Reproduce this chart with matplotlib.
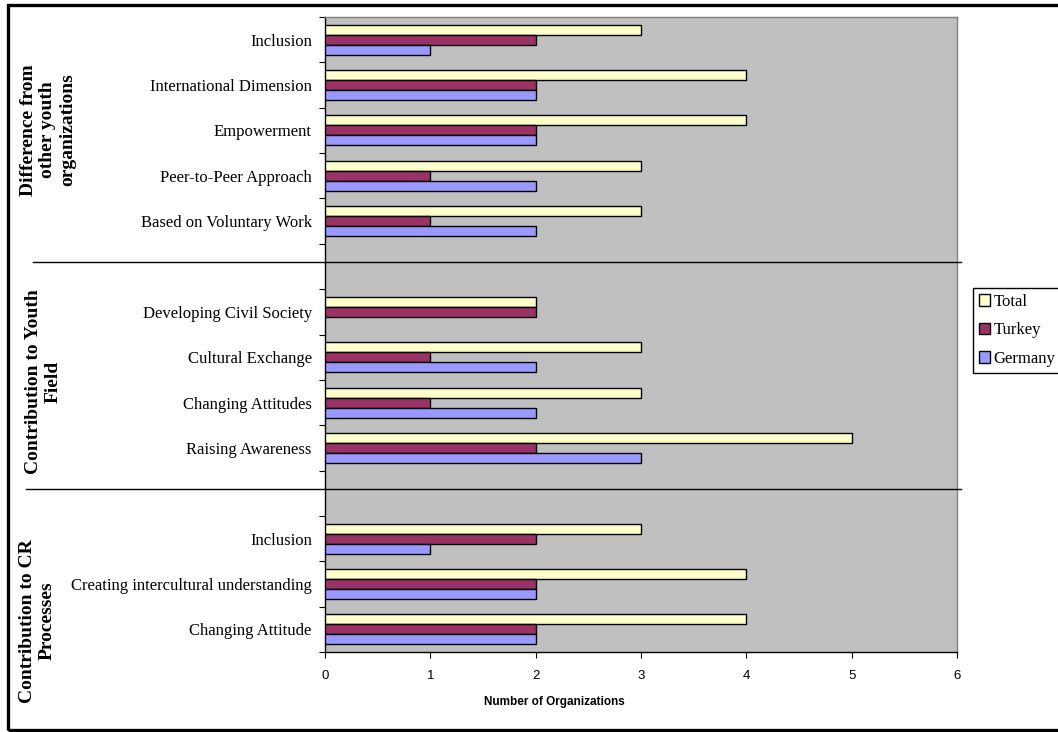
import matplotlib
matplotlib.use("Agg")
import matplotlib.pyplot as plt
from matplotlib.lines import Line2D
from matplotlib.patches import Rectangle
from matplotlib.transforms import blended_transform_factory
import numpy as np

# categories listed bottom to top; "" marks the empty slot between groups
categories = [
    "Changing Attitude",
    "Creating intercultural understanding",
    "Inclusion",
    "",
    "Raising Awareness",
    "Changing Attitudes",
    "Cultural Exchange",
    "Developing Civil Society",
    "",
    "Based on Voluntary Work",
    "Peer-to-Peer Approach",
    "Empowerment",
    "International Dimension",
    "Inclusion",
]
total = [4, 4, 3, 0, 5, 3, 3, 2, 0, 3, 3, 4, 4, 3]
turkey = [2, 2, 2, 0, 2, 1, 1, 2, 0, 1, 1, 2, 2, 2]
germany = [2, 2, 1, 0, 3, 2, 2, 0, 0, 2, 2, 2, 2, 1]

group_labels = [
    "Difference from\nother youth\norganizations",
    "Contribution to Youth\nField",
    "Contribution to CR\nProcesses",
]

series = [("Total", total, "#FFFFCC"),
          ("Turkey", turkey, "#993366"),
          ("Germany", germany, "#9999FF")]

W, H = 1058, 732
SERIF = "Liberation Serif"
SANS = "Liberation Sans"

fig = plt.figure(figsize=(W / 100, H / 100), dpi=100)
fig.patch.set_facecolor("white")
ax = fig.add_axes([325 / W, 1 - 652 / H, 632 / W, 635 / H])
ax.set_facecolor("#C0C0C0")

y = np.arange(len(categories))
bh = 0.22
for k, (name, vals, col) in enumerate(series):
    vals = np.array(vals, dtype=float)
    vals[vals == 0] = np.nan
    ax.barh(y + bh * (1 - k), vals, height=bh, color=col,
            edgecolor="black", linewidth=1.0, label=name, zorder=3)

ax.set_xlim(0, 6)
ax.set_ylim(-0.5, len(categories) - 0.5)
ax.set_xticks(range(7))
ax.set_xticklabels([str(i) for i in range(7)], fontfamily=SANS, fontsize=9.5)
ax.tick_params(axis="x", length=4, width=0.8, pad=9, color="black")

ax.set_yticks(y)
ax.set_yticklabels(categories, fontfamily=SERIF, fontsize=12)
ax.tick_params(axis="y", which="major", length=0, pad=9.5)
ax.set_yticks(np.arange(-0.5, len(categories)), minor=True)
ax.tick_params(axis="y", which="minor", length=4, width=0.8, color="black")

for side in ("top", "right"):
    ax.spines[side].set_color("#808080")
    ax.spines[side].set_linewidth(1.0)
for side in ("left", "bottom"):
    ax.spines[side].set_color("black")
    ax.spines[side].set_linewidth(1.0)

fig.text(554 / W, 1 - 702 / H, "Number of Organizations", fontfamily=SANS,
         fontweight="bold", fontsize=8.5, ha="center", va="center")

# group labels on the left, rotated
label_pos = [(48, 130), (43, 382), (37, 621)]
for txt, (px, py) in zip(group_labels, label_pos):
    fig.text(px / W, 1 - py / H, txt, fontfamily=SERIF, fontweight="bold",
             fontsize=14, rotation=90, ha="center", va="center",
             multialignment="center", linespacing=1.2)

# separators through the empty slots between groups
trans = blended_transform_factory(fig.transFigure, ax.transData)
blank_slots = [i for i, c in enumerate(categories) if c == ""]
for idx, x0 in zip(sorted(blank_slots, reverse=True), (33, 26)):
    fig.add_artist(Line2D([x0 / W, 961 / W], [idx + 0.1, idx + 0.1],
                          transform=trans, color="black", lw=1.0, zorder=5))

leg = fig.legend(loc="upper left", bbox_to_anchor=(973 / W, 1 - 288 / H),
                 bbox_transform=fig.transFigure, borderaxespad=0,
                 prop={"family": SERIF, "size": 12}, fancybox=False,
                 edgecolor="black", framealpha=1, handlelength=0.65,
                 handleheight=0.65, handletextpad=0.25, labelspacing=0.75,
                 borderpad=0.35)
leg.get_frame().set_linewidth(1.0)

# outer frame around the chart
fig.add_artist(Rectangle((7.5 / W, 1 - 730 / H), 1.2, (730 - 5) / H,
                         transform=fig.transFigure, fill=False,
                         edgecolor="black", lw=2.4, clip_on=False))

fig.savefig("out.png", dpi=100)
